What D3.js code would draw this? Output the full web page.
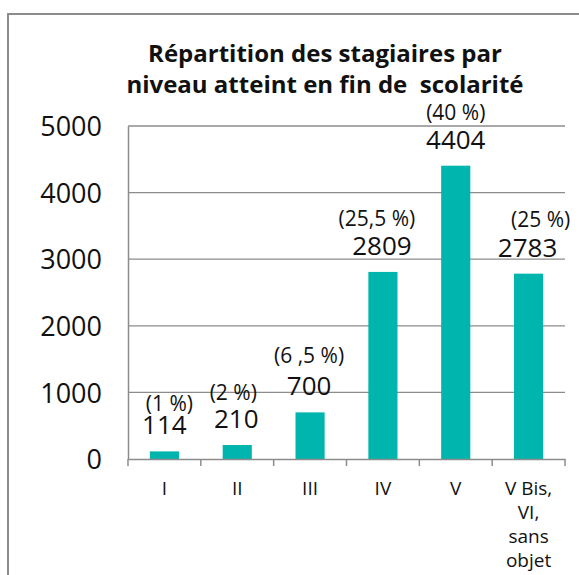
<!DOCTYPE html>
<html><head><meta charset="utf-8">
<script src="https://cdn.jsdelivr.net/npm/d3@7"></script>
<style>html,body{margin:0;padding:0;background:#fff;}svg{display:block;}</style>
</head><body>
<svg id="chart" width="579" height="575"></svg>
<script>
const categories = ["I", "II", "III", "IV", "V", "V Bis, VI, sans objet"];
const categoryLines = [["I"], ["II"], ["III"], ["IV"], ["V"], ["V Bis,", "VI,", "sans", "objet"]];
const values = [114, 210, 700, 2809, 4404, 2783];
const percentLabels = ["(1 %)", "(2 %)", "(6 ,5 %)", "(25,5 %)", "(40 %)", "(25 %)"];
const yTicks = [0, 1000, 2000, 3000, 4000, 5000];
const titleLines = ["Répartition des stagiaires par", "niveau atteint en fin de  scolarité"];

(function () {
const font = "'Open Sans', 'Noto Sans', sans-serif";
const svg = d3.select("#chart");
const grey = "#8c8c8c";
const teal = "#00b5ad";
const ink = "#111";

// outer frame
svg.append("rect").attr("x", 8).attr("y", 14).attr("width", 600).attr("height", 600)
  .attr("fill", "none").attr("stroke", grey).attr("stroke-width", 2);

const pLeft = 128, pRight = 565, pTop = 126, pBottom = 459;
const x = d3.scaleBand().domain(categories).range([pLeft, pRight]).paddingInner(0.6).paddingOuter(0.3);
const xb = d3.scaleBand().domain(categories).range([pLeft, pRight]);
const y = d3.scaleLinear().domain([0, 5000]).range([pBottom, pTop]);

// gridlines
svg.append("g").selectAll("line").data(yTicks.filter(d => d > 0)).join("line")
  .attr("x1", pLeft).attr("x2", pRight).attr("y1", d => y(d)).attr("y2", d => y(d))
  .attr("stroke", grey).attr("stroke-width", 1.3);

// y axis
const yAxis = svg.append("g").attr("transform", `translate(${pLeft},0)`)
  .call(d3.axisLeft(y).tickValues(yTicks).tickSize(0).tickPadding(26).tickFormat(d3.format("d")));
yAxis.select(".domain").attr("stroke", grey).attr("stroke-width", 1.5);
yAxis.selectAll("text").attr("font-family", font).attr("font-size", 27).attr("fill", ink)
  .attr("dy", "0.36em");

// bars
svg.append("g").selectAll("rect").data(values).join("rect")
  .attr("x", (d, i) => x(categories[i])).attr("width", x.bandwidth())
  .attr("y", d => y(d)).attr("height", d => y(0) - y(d)).attr("fill", teal);

// x axis
const xAxis = svg.append("g").attr("transform", `translate(0,${pBottom})`)
  .call(d3.axisBottom(xb).tickSize(0).tickFormat(""));
xAxis.select(".domain").attr("stroke", grey).attr("stroke-width", 1.5);
const boundaries = categories.map(c => xb(c)).concat([pRight]);
svg.append("g").selectAll("line").data(boundaries).join("line")
  .attr("x1", d => d).attr("x2", d => d).attr("y1", pBottom).attr("y2", pBottom + 7)
  .attr("stroke", grey).attr("stroke-width", 1.5);

// x labels
const xl = svg.append("g");
categoryLines.forEach((lines, i) => {
  const cx = xb(categories[i]) + xb.bandwidth() / 2;
  const t = xl.append("text").attr("x", cx).attr("y", 495)
    .attr("text-anchor", "middle").attr("font-family", font).attr("font-size", 19).attr("fill", ink);
  lines.forEach((l, j) => t.append("tspan").attr("x", cx).attr("dy", j === 0 ? 0 : 24).text(l));
});

// value labels
const valDx = [0, -1, -1, -1, 0, -1];
const pctDx = [5, -4, -1, -6, 0, 12];
const pctDy = [-40, -45, -49, -46, -46, -47];
svg.append("g").selectAll("text").data(values).join("text")
  .attr("x", (d, i) => xb(categories[i]) + xb.bandwidth() / 2 + valDx[i])
  .attr("y", d => y(d) - 17)
  .attr("text-anchor", "middle").attr("font-family", font).attr("font-size", 26).attr("fill", ink)
  .text(d => d);
svg.append("g").selectAll("text").data(values).join("text")
  .attr("x", (d, i) => xb(categories[i]) + xb.bandwidth() / 2 + pctDx[i])
  .attr("y", (d, i) => y(d) + pctDy[i])
  .attr("text-anchor", "middle").attr("font-family", font).attr("font-size", 21).attr("fill", ink)
  .text((d, i) => percentLabels[i]);

// title
svg.append("g").selectAll("text").data(titleLines).join("text")
  .attr("x", 325).attr("y", (d, i) => 62 + i * 31)
  .attr("text-anchor", "middle").attr("font-family", font).attr("font-size", 24)
  .attr("font-weight", "bold").attr("fill", ink).style("white-space", "pre").text(d => d);
})();
</script>
</body></html>
